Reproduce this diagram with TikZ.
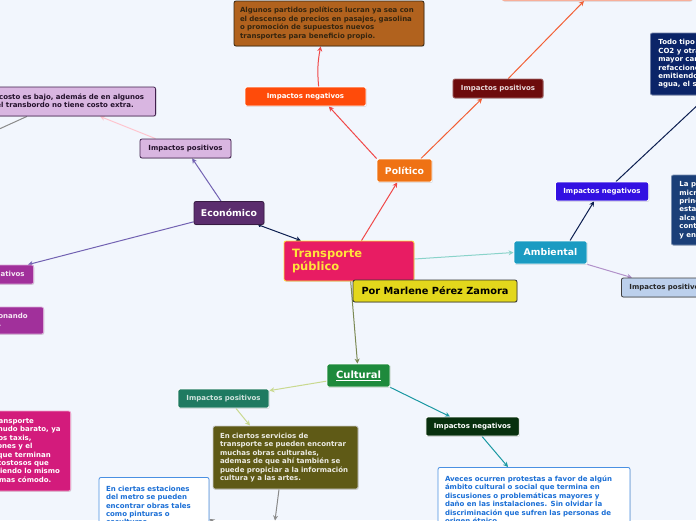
\documentclass[tikz,border=0pt]{standalone}
\usepackage{fontspec}
\setmainfont{DejaVu Sans}
\usetikzlibrary{arrows.meta,shadows,backgrounds}

\definecolor{fondo}{HTML}{F2F6FD}
\definecolor{rosa}{HTML}{E81C63}
\definecolor{amarillo}{HTML}{FFE33B}
\definecolor{mostaza}{HTML}{E3D71C}
\definecolor{naranja}{HTML}{EF7214}
\definecolor{rojizo}{HTML}{FF4B0A}
\definecolor{cafe}{HTML}{B1621E}
\definecolor{cafetexto}{HTML}{35250F}
\definecolor{guinda}{HTML}{6D0B0C}
\definecolor{durazno}{HTML}{FCE3D9}
\definecolor{morado}{HTML}{5B2D6E}
\definecolor{lila}{HTML}{D9B6E1}
\definecolor{magenta}{HTML}{A1309B}
\definecolor{fucsia}{HTML}{D31B7C}
\definecolor{verde}{HTML}{1E8A3C}
\definecolor{verdeazul}{HTML}{1F7A61}
\definecolor{olivo}{HTML}{5F5A16}
\definecolor{verdeoscuro}{HTML}{08300E}
\definecolor{azultexto}{HTML}{1B6FD6}
\definecolor{azulborde}{HTML}{4A90E2}
\definecolor{cian}{HTML}{1A9BC2}
\definecolor{indigo}{HTML}{3311E2}
\definecolor{marino}{HTML}{0B2468}
\definecolor{acero}{HTML}{1B3F78}
\definecolor{celeste}{HTML}{BCD0EC}
% connector colours
\definecolor{lrojo}{HTML}{F04848}
\definecolor{lnaranja}{HTML}{F25F35}
\definecolor{lmorado}{HTML}{7262B2}
\definecolor{lrosa}{HTML}{FFC4CE}
\definecolor{lgris}{HTML}{8A8A8A}
\definecolor{lolivo}{HTML}{7B8A55}
\definecolor{llima}{HTML}{C9D98F}
\definecolor{lturquesa}{HTML}{1A98A2}
\definecolor{lagua}{HTML}{8AD3CA}
\definecolor{lmarino}{HTML}{0C1E50}
\definecolor{llila}{HTML}{B292CA}

\tikzset{
  caja/.style={rounded corners=2pt, line width=0.8pt, inner xsep=8pt, inner ysep=3pt,
    font=\bfseries\fontsize{7}{8.4}\selectfont, align=left,
    drop shadow={shadow xshift=0.7pt,shadow yshift=-0.9pt,opacity=0.25}},
  etiqueta/.style={caja, align=center, minimum height=19pt},
  rama/.style={caja, align=center, inner xsep=6pt, minimum height=23pt,
    font=\bfseries\fontsize{9.3}{11}\selectfont},
  flecha/.style={line width=1pt, -{Stealth[length=5pt,width=5pt]}},
}

\begin{document}
\begin{tikzpicture}[x=1pt,y=-1pt]
      \useasboundingbox (0,0) rectangle (696,520);

      % centro
      \node[rama, fill=rosa, draw=amarillo, text=amarillo, font=\bfseries\fontsize{11.5}{13.5}\selectfont,
        text width=114pt, inner xsep=8pt, align=left, minimum height=40pt] (central) at (349,261) {Transporte\\público};
      \node[caja, fill=mostaza, draw=black!80, text=black, font=\bfseries\fontsize{9.8}{11}\selectfont,
        align=center, minimum width=164pt, minimum height=22pt] (autora) at (435,291) {Por Marlene Pérez Zamora};

      % politico
      \node[rama, fill=naranja, draw=white, text=white, minimum width=55pt] (politico) at (404.5,170.5) {Político};
      \node[etiqueta, fill=rojizo, draw=white, text=white, minimum width=121pt] (polneg) at (305.5,96.5) {Impactos negativos};
      \node[caja, fill=cafe, draw=cafetexto, text=cafetexto, text width=178pt, inner xsep=6pt,
        minimum height=45pt] (poltexto) at (329,23.5) {Algunos partidos políticos lucran ya sea con\\el descenso de precios en pasajes, gasolina\\o promoción de supuestos nuevos\\transportes para beneficio propio.};
      \node[etiqueta, fill=guinda, draw=guinda!60!white, text=guinda!15!white, minimum width=90pt] (polpos) at (498,88.5) {Impactos positivos};
      \node[caja, fill=durazno, draw=lnaranja!50, minimum width=190pt, minimum height=31pt, anchor=south] (polcaja) at (597,1) {};

      % economico
      \node[rama, fill=morado, draw=morado!60!black, text=white, minimum width=70pt] (economico) at (229,213) {Económico};
      \node[etiqueta, fill=lila, draw=morado!70!black, text=morado!40!black, minimum width=91pt] (ecopos) at (185.5,148.5) {Impactos positivos};
      \node[caja, fill=lila, draw=morado!70!black, text=morado!40!black, text width=158pt,
        minimum height=29pt, anchor=east] (ecotexto) at (156,101.5) {El costo es bajo, además de en algunos\\y el transbordo no tiene costo extra.};
      \node[etiqueta, fill=magenta, draw=magenta!40!white, text=magenta!10!white, inner xsep=9pt, anchor=east] (econeg) at (34,274.5) {Impactos negativos};
      \node[caja, fill=magenta, draw=magenta!40!white, text=magenta!10!white, inner xsep=16pt,
        minimum height=27pt, anchor=east] (econegtexto) at (44,320.5) {Hay más tráfico ocasionando\\choques y accidentes.};
      \node[caja, fill=fucsia, draw=fucsia!40!white, text=white, inner xsep=10pt,
        minimum height=80pt, anchor=east] (ecomag) at (71,451) {Un transporte\\a menudo barato, ya\\que los taxis,\\camiones y el\\tren que terminan\\más costosos que\\aun siendo lo mismo\\pero mas cómodo.};

      % cultural
      \node[rama, fill=verde, draw=white, text=white, font=\bfseries\fontsize{10}{12}\selectfont,
        minimum width=63pt] (cultural) at (358.5,375.5) {\underline{Cultural}};
      \node[etiqueta, fill=verdeazul, draw=white, text=verdeazul!20!white, minimum width=91pt] (culpos) at (223.5,398.5) {Impactos positivos};
      \node[caja, fill=olivo, draw=white!80!black, text=olivo!12!white, text width=131pt, inner xsep=7pt,
        minimum height=63pt] (cultexto) at (285.5,457.5) {En ciertos servicios de\\transporte se pueden encontrar\\muchas obras culturales,\\ademas de que ahí también se\\puede propiciar a la información\\cultura y a las artes.};
      \node[caja, fill=white, draw=azulborde, text=azultexto, text width=96pt, inner xsep=7pt,
        inner ysep=8.5pt, anchor=north] (culcaja1) at (154,477) {En ciertas estaciones\\del metro se pueden\\encontrar obras tales\\como pinturas o\\esculturas.};
      \node[etiqueta, fill=verdeoscuro, draw=white, text=white, minimum width=93pt] (culneg) at (472.5,426.5) {Impactos negativos};
      \node[caja, fill=white, draw=azulborde, text=azultexto, text width=178pt, inner xsep=7pt,
        inner ysep=8.5pt, anchor=north] (culcaja2) at (534,467) {Aveces ocurren protestas a favor de algún\\ámbito cultural o social que termina en\\discusiones o problemáticas mayores y\\daño en las instalaciones. Sin olvidar la\\discriminación que sufren las personas de\\origen étnico.};

      % ambiental
      \node[rama, fill=cian, draw=white, text=white, minimum width=73pt] (ambiental) at (550.5,252.5) {Ambiental};
      \node[etiqueta, fill=indigo, draw=white, text=white, minimum width=92pt] (ambneg) at (602,191.5) {Impactos negativos};
      \node[caja, fill=marino, draw=marino!60, text=white, minimum height=62pt, anchor=west] (ambtexto1) at (650,64) {Todo tipo de transporte emite\\CO2 y otras sustancias, en\\mayor cantidad si no tiene\\refacciones adecuadas,\\emitiendo contaminantes al\\agua, el suelo y el aire.};
      \node[caja, fill=acero, draw=acero!60, text=white, minimum height=70pt, anchor=west] (ambtexto2) at (671,210) {La presencia de\\microbuses es la\\principal causa de\\estas emisiones que\\alcanzan niveles de\\contaminación altos\\y en aumento.};
      \node[etiqueta, fill=celeste, draw=black!75, text=black!85, anchor=west] (ambpos) at (621,287.5) {Impactos positivos};

      % free ends off the page
      \coordinate (ecolibre) at (-25,140);
      \coordinate (culabajo) at (275,520.5);
      \coordinate (culotro) at (224,528);

      \begin{scope}[on background layer]
      \fill[fondo] (0,0) rectangle (696,520); % fondo

      \draw[flecha,lrojo] (central) -- (politico);
      \draw[flecha,lrojo] (politico.north west) -- (polneg.-23);
      \draw[flecha,lrojo] (polneg.37) to[bend left=8] (poltexto.-110);
      \draw[flecha,lnaranja] (politico.36) -- (polpos.-148);
      \draw[flecha,lnaranja] (polpos.44) -- ([xshift=-13pt]polcaja.south);

      \draw[lmarino,line width=1pt,{Circle[length=3pt]}-{Stealth[length=5pt,width=5pt]}] (economico.-22) -- (central.157);
      \draw[flecha,lmorado] (economico) -- (ecopos);
      \draw[flecha,lrosa] ([xshift=-30pt]ecopos.north) -- ([xshift=-56pt]ecotexto.south east);
      \draw[lgris,line width=1pt] ([xshift=-129pt]ecotexto.south east) -- (ecolibre);
      \draw[flecha,lmorado] (economico.194) -- ([xshift=-6pt]econeg.north east);

      \draw[flecha,lolivo] (central) -- (cultural);
      \draw[flecha,llima] (cultural.190) -- ([yshift=-2pt]culpos.north east);
      \draw[flecha,llima] ([xshift=12.5pt]culpos.south) -- ([xshift=-35.5pt]cultexto.north);
      \draw[flecha,lgris] ([xshift=-6.5pt]cultexto.south) -- (culabajo);
      \draw[flecha,lgris] (culotro) -- ([yshift=-42pt]culcaja1.north east);
      \draw[flecha,lturquesa] (cultural.south east) -- ([xshift=-22.5pt]culneg.north);
      \draw[flecha,lturquesa] ([xshift=9.5pt]culneg.south) -- ([xshift=-26pt]culcaja2.north);

      \draw[flecha,lagua] ([yshift=2pt]central.east) -- (ambiental.west);
      \draw[flecha,lmarino] ([xshift=19.5pt]ambiental.north) -- ([xshift=-8pt]ambneg.south);
      \draw[flecha,lmarino] ([xshift=14pt]ambneg.north) -- ([xshift=58pt]ambtexto1.south west);
      \draw[flecha,llila] (ambiental.south east) -- ([xshift=11pt]ambpos.north west);
      \end{scope}
\end{tikzpicture}
\end{document}
